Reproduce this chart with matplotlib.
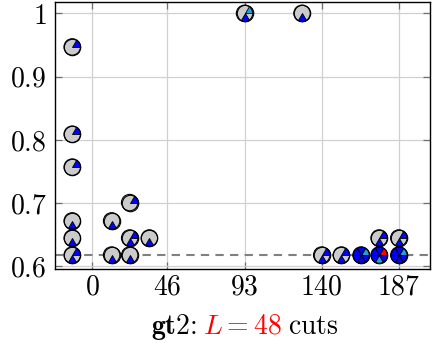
import numpy as np
import matplotlib
matplotlib.use("Agg")
import matplotlib.pyplot as plt
from matplotlib.path import Path

plt.rcParams['mathtext.fontset'] = 'cm'
plt.rcParams['font.family'] = 'serif'
plt.rcParams['font.serif'] = ['cmr10', 'DejaVu Serif']
plt.rcParams['axes.formatter.use_mathtext'] = True

# data
x_vals = [-12, -12, -12, -12, -12, -12, 12, 12, 23, 23, 23, 35, 93, 128,
          140, 152, 164, 175, 187, 175, 187]
y_vals = [0.947, 0.809, 0.757, 0.672, 0.645, 0.618, 0.672, 0.618, 0.701, 0.645,
          0.618, 0.645, 1.0, 1.0, 0.618, 0.618, 0.618, 0.618, 0.618, 0.645, 0.645]
# sector colours, sector k spans k*60 .. (k+1)*60 degrees
sectors = ["bggggg", "bggggg", "bggggg", "ggggbg", "ggggbg", "bgggbg",
           "ggggbg", "ggggbg", "bggggg", "bgggbg", "ggggbg", "ggggbg",
           "cgggbg", "ggggbg", "bgggbg", "bgggbg", "cbbbbb", "rbbbcb",
           "cbbbbb", "bgggbg", "bgggbg"]
baseline = 0.618
x_ticks = [0, 46, 93, 140, 187]
y_ticks = [0.6, 0.7, 0.8, 0.9, 1.0]
y_tick_labels = ["0.6", "0.7", "0.8", "0.9", "1"]

colmap = {'g': '#cbcbcb', 'b': '#0000ff', 'c': '#20a0d8', 'r': '#ff0000'}

fig = plt.figure(figsize=(4.36, 3.43), dpi=100)
ax = fig.add_axes([55/436, 74/343, 375/436, 267/343])

ax.set_xlim(-22.5, 206)
ax.set_ylim(0.596, 1.018)
ax.set_xticks(x_ticks)
ax.set_xticklabels([f"${t}$" for t in x_ticks])
ax.set_yticks(y_ticks)
ax.set_yticklabels([f"${t}$" for t in y_tick_labels])
ax.grid(True, color='#d0d0d0', linewidth=0.9, zorder=0)
ax.set_axisbelow(True)
ax.tick_params(direction='in', length=5, width=0.9, color='#707070',
               labelsize=20, top=True, right=True)
ax.tick_params(axis='x', pad=4)
ax.tick_params(axis='y', pad=6)
for s in ax.spines.values():
    s.set_linewidth(1.0)
    s.set_color('black')

ax.axhline(baseline, color='#808080', linestyle=(0, (4, 3)), linewidth=1.5, zorder=1)

def wedge_path(k):
    th = np.linspace(np.radians(k*60), np.radians((k+1)*60), 20)
    verts = [(0, 0)] + [(np.cos(t), np.sin(t)) for t in th] + [(0, 0)]
    codes = [Path.MOVETO] + [Path.LINETO]*(len(verts)-2) + [Path.CLOSEPOLY]
    return Path(verts, codes)

size = 140
ax.scatter(x_vals, y_vals, s=size, marker='o', facecolor=colmap['g'],
           edgecolor='black', linewidth=0.8, zorder=3, clip_on=False)
for k in range(6):
    for code in ['b', 'c', 'r']:
        xs = [x for x, sc in zip(x_vals, sectors) if sc[k] == code]
        ys = [y for y, sc in zip(y_vals, sectors) if sc[k] == code]
        if xs:
            ax.scatter(xs, ys, s=size, marker=wedge_path(k), facecolor=colmap[code],
                       edgecolor='black', linewidth=0.6, zorder=4, clip_on=False)
ax.scatter(x_vals, y_vals, s=size, marker='o', facecolor='none',
           edgecolor='black', linewidth=0.8, zorder=5, clip_on=False)

# caption, pieces placed on a common baseline
fs = 20
parts = [(r"$\mathbf{gt2}$:", 'black'), (r"$L = 48$", 'red'), (r"$\mathrm{cuts}$", 'black')]
gap = 6  # pixels between pieces
fig.canvas.draw()
r = fig.canvas.get_renderer()
texts = [fig.text(0, 0, s, fontsize=fs, color=c, va='baseline', ha='left') for s, c in parts]
widths = [t.get_window_extent(r).width for t in texts]
total = sum(widths) + gap * (len(widths) - 1)
cx = 245
x0 = cx - total / 2
yb = 343 - 334
for t, w in zip(texts, widths):
    t.set_position((x0 / 436, yb / 343))
    x0 += w + gap

fig.savefig("out.png", dpi=100)
